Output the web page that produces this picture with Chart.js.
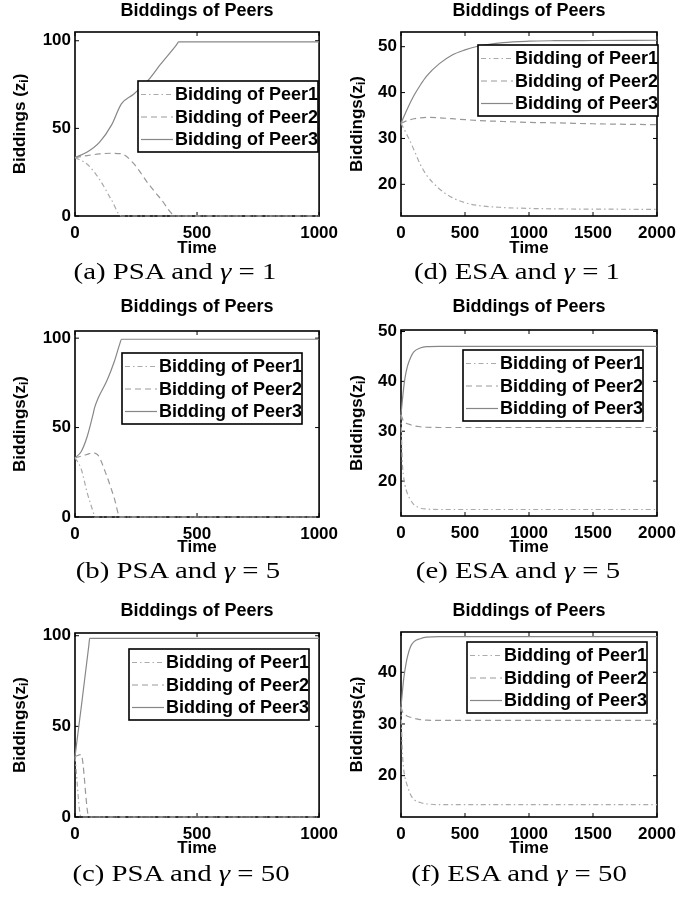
<!DOCTYPE html>
<html>
<head>
<meta charset="utf-8">
<title>Biddings of Peers</title>
<script src="https://cdn.jsdelivr.net/npm/chart.js@4.4.1/dist/chart.umd.min.js"></script>
<style>
  body { margin: 0; background: #fff; }
  #page { position: relative; width: 691px; height: 901px; overflow: hidden; }
  canvas { position: absolute; }
  .cap { position: absolute; width: 300px; margin-left: -150px; text-align: center;
         font-family: "Liberation Serif", serif; font-size: 24px; line-height: 24px;
         white-space: nowrap; transform: scaleX(1.2); }
</style>
</head>
<body>
<div id="page">
  <canvas id="a" width="345" height="264" style="left:0;top:0"></canvas>
  <canvas id="d" width="346" height="264" style="left:345px;top:0"></canvas>
  <canvas id="b" width="345" height="264" style="left:0;top:296px"></canvas>
  <canvas id="e" width="346" height="264" style="left:345px;top:296px"></canvas>
  <canvas id="c" width="345" height="264" style="left:0;top:600px"></canvas>
  <canvas id="f" width="346" height="264" style="left:345px;top:600px"></canvas>
  <div class="cap" style="left:175px;top:259px">(a) PSA and <i>γ</i> = 1</div>
  <div class="cap" style="left:517px;top:259px">(d) ESA and <i>γ</i> = 1</div>
  <div class="cap" style="left:178px;top:558px">(b) PSA and <i>γ</i> = 5</div>
  <div class="cap" style="left:518px;top:558px">(e) ESA and <i>γ</i> = 5</div>
  <div class="cap" style="left:181px;top:861px">(c) PSA and <i>γ</i> = 50</div>
  <div class="cap" style="left:519px;top:861px">(f) ESA and <i>γ</i> = 50</div>
</div>
<script>
// tick labels
const psaTimeTicks = [0, 500, 1000];
const esaTimeTicks = [0, 500, 1000, 1500, 2000];
const psaTicks = [0, 50, 100];
const esaTicks = [20, 30, 40, 50];
const esaTicksF = [20, 30, 40];

const peerNames = ['Bidding of Peer1', 'Bidding of Peer2', 'Bidding of Peer3'];

// (a) PSA, gamma = 1
const aTime  = [0, 50, 100, 150, 190, 240, 300, 350, 415, 425, 1000];
const aPeer1 = [33.3, 29.5, 21, 9, 0, 0, 0, 0, 0, 0, 0];
const aPeer2 = [33.3, 34.5, 35.4, 35.8, 35.5, 30, 18.5, 10, 0, 0, 0];
const aPeer3 = [33.3, 36.5, 42, 52, 64, 69.5, 77.5, 86.5, 97.5, 99.4, 99.4];

// (b) PSA, gamma = 5
const bTime  = [0, 25, 50, 75, 80, 95, 130, 160, 185, 190, 1000];
const bPeer1 = [33.1, 27, 13.5, 2.5, 0, 0, 0, 0, 0, 0, 0];
const bPeer2 = [33.1, 34, 35, 36, 35.8, 34.5, 23, 11, 0, 0, 0];
const bPeer3 = [33.1, 36.5, 45, 58, 61, 66.5, 76, 86.5, 97.5, 99.4, 99.4];

// (c) PSA, gamma = 50
const cTime  = [0, 25, 57, 60, 1000];
const cPeer1 = [33.3, 0, 0, 0, 0];
const cPeer2 = [33.3, 34.4, 0, 0, 0];
const cPeer3 = [33.3, 60, 95, 98.5, 98.5];

// (d) ESA, gamma = 1
const dTime  = [0, 50, 100, 150, 200, 300, 400, 500, 600, 800, 1000, 1200, 1500, 2000];
const dPeer1 = [33.3, 30.6, 27.6, 24.4, 22, 19, 17.1, 16, 15.4, 14.95, 14.75, 14.65, 14.6, 14.55];
const dPeer2 = [33.3, 33.9, 34.3, 34.5, 34.6, 34.5, 34.3, 34.1, 33.9, 33.7, 33.5, 33.4, 33.2, 33.0];
const dPeer3 = [33.3, 36.5, 39.3, 41.6, 43.6, 46.3, 48.2, 49.3, 50.1, 50.9, 51.2, 51.3, 51.35, 51.4];

// (e) ESA, gamma = 5
const eTime  = [0, 10, 20, 30, 50, 75, 100, 150, 200, 300, 2000];
const ePeer1 = [33.3, 24, 21, 19.3, 17.5, 16.2, 15.3, 14.6, 14.4, 14.3, 14.3];
const ePeer2 = [33.3, 32.6, 32, 31.8, 31.5, 31.3, 31.1, 30.9, 30.8, 30.75, 30.75];
const ePeer3 = [33.3, 36, 38.5, 40.5, 43, 44.8, 45.9, 46.7, 46.95, 47.0, 47.0];

// (f) ESA, gamma = 50
const fTime  = [0, 10, 20, 30, 50, 75, 100, 150, 200, 300, 2000];
const fPeer1 = [33.3, 25, 21.5, 19.8, 18, 16.3, 15.4, 14.8, 14.55, 14.4, 14.4];
const fPeer2 = [33.3, 32.5, 32, 31.8, 31.5, 31.3, 31.1, 30.85, 30.75, 30.7, 30.7];
const fPeer3 = [33.3, 36, 38.5, 40.3, 43, 45, 45.9, 46.5, 46.8, 46.9, 46.9];

const peerStyles = [
  { color: '#ababab', dash: [5, 3, 1.5, 3] },
  { color: '#999999', dash: [6, 4] },
  { color: '#878787', dash: [] }
];

Chart.defaults.font.family = '"Liberation Sans", Arial, sans-serif';
Chart.defaults.font.size = 17;
Chart.defaults.font.weight = 'bold';
Chart.defaults.color = '#000';

// area / legend are in canvas pixels
const panels = [
  { id: 'a', time: aTime, peers: [aPeer1, aPeer2, aPeer3], xMax: 1000, xTicks: psaTimeTicks,
    yMin: 0, yMax: 105, yTicks: psaTicks, ylabel: 'Biddings (z',
    area: { l: 75, t: 32, r: 321, b: 216 }, timeY: 249, labelX: 20, legend: { x: 63, y: 49 } },
  { id: 'b', time: bTime, peers: [bPeer1, bPeer2, bPeer3], xMax: 1000, xTicks: psaTimeTicks,
    yMin: 0, yMax: 104, yTicks: psaTicks, ylabel: 'Biddings(z',
    area: { l: 75, t: 35, r: 321, b: 221 }, timeY: 252, labelX: 20, legend: { x: 47, y: 22 } },
  { id: 'c', time: cTime, peers: [cPeer1, cPeer2, cPeer3], xMax: 1000, xTicks: psaTimeTicks,
    yMin: 0, yMax: 101.5, yTicks: psaTicks, ylabel: 'Biddings(z',
    area: { l: 75, t: 33, r: 321, b: 217 }, timeY: 249, labelX: 20, legend: { x: 54, y: 16 } },
  { id: 'd', time: dTime, peers: [dPeer1, dPeer2, dPeer3], xMax: 2000, xTicks: esaTimeTicks,
    yMin: 13.1, yMax: 53.2, yTicks: esaTicks, ylabel: 'Biddings(z',
    area: { l: 56, t: 32, r: 312, b: 216 }, timeY: 249, labelX: 12, legend: { x: 77, y: 13 } },
  { id: 'e', time: eTime, peers: [ePeer1, ePeer2, ePeer3], xMax: 2000, xTicks: esaTimeTicks,
    yMin: 13.0, yMax: 50.3, yTicks: esaTicks, ylabel: 'Biddings(z',
    area: { l: 56, t: 34, r: 312, b: 220 }, timeY: 252, labelX: 12, legend: { x: 62, y: 20 } },
  { id: 'f', time: fTime, peers: [fPeer1, fPeer2, fPeer3], xMax: 2000, xTicks: esaTimeTicks,
    yMin: 12.0, yMax: 47.8, yTicks: esaTicksF, ylabel: 'Biddings(z',
    area: { l: 56, t: 32, r: 312, b: 217 }, timeY: 249, labelX: 12, legend: { x: 66, y: 10 } }
];

function seg(ctx, x1, y1, x2, y2) {
  ctx.beginPath(); ctx.moveTo(x1, y1); ctx.lineTo(x2, y2); ctx.stroke();
}

// box + inward ticks under the lines, then title, y label and legend on top
function makeFrame(p) {
  return {
    id: 'frame',
    beforeDatasetsDraw(chart) {
      const { ctx, chartArea: a, scales: { x, y } } = chart;
      ctx.save();
      ctx.strokeStyle = '#000';
      ctx.lineWidth = 1;
      x.ticks.forEach(t => {
        const px = x.getPixelForValue(t.value);
        seg(ctx, px, a.bottom, px, a.bottom - 4);
        seg(ctx, px, a.top, px, a.top + 4);
      });
      y.ticks.forEach(t => {
        const py = y.getPixelForValue(t.value);
        seg(ctx, a.left, py, a.left + 4, py);
        seg(ctx, a.right, py, a.right - 4, py);
      });
      ctx.lineWidth = 1.6;
      ctx.strokeRect(a.left, a.top, a.right - a.left, a.bottom - a.top);
      ctx.restore();
    },
    afterDatasetsDraw(chart) {
      const { ctx, chartArea: a } = chart;
      ctx.save();
      // title
      ctx.fillStyle = '#000';
      ctx.font = 'bold 18px "Liberation Sans"';
      ctx.textAlign = 'center';
      ctx.textBaseline = 'middle';
      ctx.fillText('Biddings of Peers', (a.left + a.right) / 2, 11);

      // y label with subscript i
      ctx.save();
      ctx.translate(p.labelX, (a.top + a.bottom) / 2);
      ctx.rotate(-Math.PI / 2);
      ctx.textAlign = 'left';
      ctx.font = 'bold 17px "Liberation Sans"';
      const w1 = ctx.measureText(p.ylabel).width;
      const w3 = ctx.measureText(')').width;
      ctx.font = 'bold 12px "Liberation Sans"';
      const w2 = ctx.measureText('i').width;
      const sx = -(w1 + w2 + w3) / 2;
      ctx.font = 'bold 17px "Liberation Sans"';
      ctx.fillText(p.ylabel, sx, 0);
      ctx.font = 'bold 12px "Liberation Sans"';
      ctx.fillText('i', sx + w1, 5);
      ctx.font = 'bold 17px "Liberation Sans"';
      ctx.fillText(')', sx + w1 + w2, 0);
      ctx.restore();

      // legend
      const bx = a.left + p.legend.x, by = a.top + p.legend.y, bw = 180, bh = 71;
      ctx.fillStyle = '#fff';
      ctx.fillRect(bx, by, bw, bh);
      ctx.lineWidth = 1.6;
      ctx.strokeStyle = '#000';
      ctx.strokeRect(bx, by, bw, bh);
      chart.data.datasets.forEach((ds, i) => {
        const yy = by + 13.5 + i * 22.5;
        ctx.strokeStyle = ds.borderColor;
        ctx.lineWidth = ds.borderWidth;
        ctx.setLineDash(ds.borderDash);
        seg(ctx, bx + 3, yy, bx + 35, yy);
        ctx.setLineDash([]);
        ctx.fillStyle = '#000';
        ctx.font = 'bold 18px "Liberation Sans"';
        ctx.textAlign = 'left';
        ctx.textBaseline = 'middle';
        ctx.fillText(ds.label, bx + 37, yy + 1);
      });
      ctx.restore();
    }
  };
}

panels.forEach(p => {
  const cv = document.getElementById(p.id);
  const xH = p.timeY + 10 - p.area.b;
  new Chart(cv, {
    type: 'line',
    data: {
      datasets: p.peers.map((vals, i) => ({
        label: peerNames[i],
        data: p.time.map((t, k) => ({ x: t, y: vals[k] })),
        borderColor: peerStyles[i].color,
        borderDash: peerStyles[i].dash,
        borderWidth: 1.2,
        pointRadius: 0,
        cubicInterpolationMode: 'monotone',
        fill: false,
        clip: false
      }))
    },
    options: {
      responsive: false,
      animation: false,
      layout: { padding: { top: p.area.t, left: 0, right: cv.width - p.area.r, bottom: cv.height - p.area.b - xH } },
      scales: {
        x: {
          type: 'linear', min: 0, max: p.xMax,
          afterFit: s => { s.height = xH; },
          afterBuildTicks: s => { s.ticks = p.xTicks.map(v => ({ value: v })); },
          grid: { display: false, drawTicks: false },
          border: { display: false },
          ticks: { padding: 7, maxRotation: 0, autoSkip: false, callback: v => String(v) },
          title: { display: true, text: 'Time', padding: 0 }
        },
        y: {
          min: p.yMin, max: p.yMax,
          afterFit: s => { s.width = p.area.l; },
          afterBuildTicks: s => { s.ticks = p.yTicks.map(v => ({ value: v })); },
          grid: { display: false, drawTicks: false },
          border: { display: false },
          ticks: { padding: 4, autoSkip: false, callback: v => String(v) }
        }
      },
      plugins: { legend: { display: false }, tooltip: { enabled: false }, title: { display: false } }
    },
    plugins: [makeFrame(p)]
  });
});
</script>
</body>
</html>
